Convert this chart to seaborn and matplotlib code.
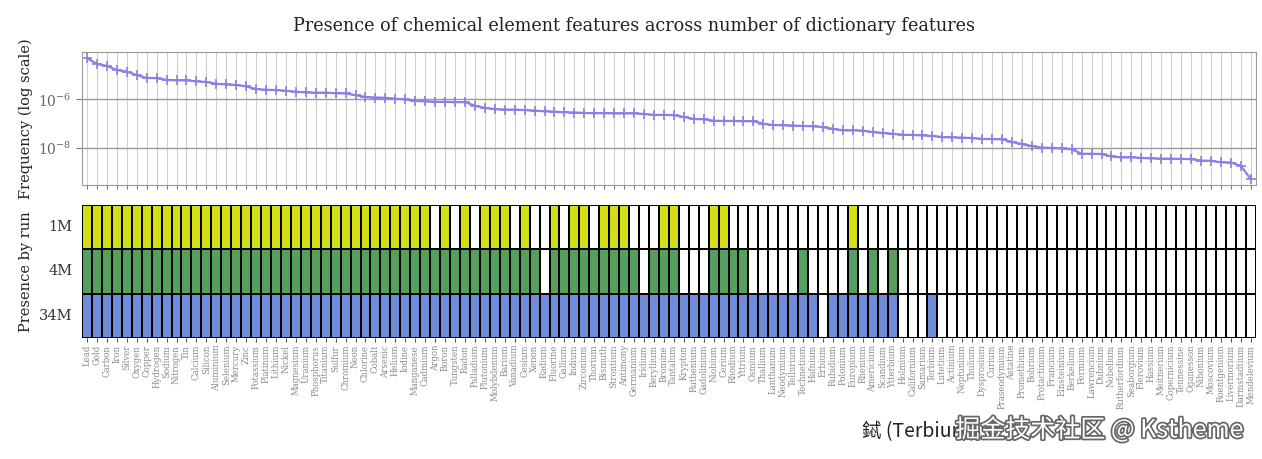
import numpy as np
import pandas as pd
import seaborn as sns
import matplotlib.pyplot as plt
import matplotlib.patheffects as pe
from matplotlib.colors import ListedColormap
from matplotlib.ticker import NullLocator

# element order (sorted by frequency)
elements = [
    "Lead", "Gold", "Carbon", "Iron", "Silver", "Oxygen", "Copper", "Hydrogen", "Sodium", "Nitrogen",
    "Tin", "Calcium", "Silicon", "Aluminium", "Selenium", "Mercury", "Zinc", "Potassium", "Platinum", "Lithium",
    "Nickel", "Magnesium", "Uranium", "Phosphorus", "Titanium", "Sulfur", "Chromium", "Neon", "Chlorine", "Cobalt",
    "Arsenic", "Helium", "Iodine", "Manganese", "Cadmium", "Argon", "Boron", "Tungsten", "Radon", "Palladium",
    "Plutonium", "Molybdenum", "Barium", "Vanadium", "Cesium", "Xenon", "Radium", "Fluorine", "Gallium", "Indium",
    "Zirconium", "Thorium", "Bismuth", "Strontium", "Antimony", "Germanium", "Iridium", "Beryllium", "Bromine", "Tantalum",
    "Krypton", "Ruthenium", "Gadolinium", "Niobium", "Cerium", "Rhodium", "Yttrium", "Osmium", "Thallium", "Lanthanum",
    "Neodymium", "Tellurium", "Technetium", "Hafnium", "Erbium", "Rubidium", "Polonium", "Europium", "Rhenium", "Americium",
    "Scandium", "Ytterbium", "Holmium", "Californium", "Samarium", "Terbium", "Lutetium", "Actinium", "Neptunium", "Thulium",
    "Dysprosium", "Curium", "Praseodymium", "Astatine", "Promethium", "Bohrium", "Protactinium", "Francium", "Einsteinium", "Berkelium",
    "Fermium", "Lawrencium", "Dubnium", "Nobelium", "Rutherfordium", "Seaborgium", "Flerovium", "Hassium", "Meitnerium", "Copernicium",
    "Tennessine", "Oganesson", "Nihonium", "Moscovium", "Roentgenium", "Livermorium", "Darmstadtium", "Mendelevium",
]

# log10 of frequency
log_freq = [
    -4.29, -4.53, -4.61, -4.78, -4.85, -4.99, -5.11, -5.12, -5.19, -5.21,
    -5.21, -5.25, -5.28, -5.35, -5.38, -5.40, -5.46, -5.57, -5.60, -5.61,
    -5.64, -5.68, -5.71, -5.72, -5.72, -5.74, -5.75, -5.82, -5.90, -5.92,
    -5.93, -5.97, -6.00, -6.06, -6.08, -6.10, -6.10, -6.11, -6.11, -6.26,
    -6.35, -6.40, -6.42, -6.42, -6.44, -6.46, -6.49, -6.51, -6.53, -6.54,
    -6.56, -6.57, -6.57, -6.58, -6.58, -6.58, -6.60, -6.64, -6.64, -6.65,
    -6.72, -6.81, -6.82, -6.88, -6.89, -6.89, -6.90, -6.90, -7.01, -7.06,
    -7.07, -7.08, -7.10, -7.11, -7.15, -7.22, -7.28, -7.28, -7.29, -7.35,
    -7.39, -7.42, -7.46, -7.47, -7.49, -7.51, -7.56, -7.57, -7.58, -7.60,
    -7.63, -7.64, -7.65, -7.76, -7.85, -7.93, -7.99, -8.01, -8.03, -8.06,
    -8.25, -8.25, -8.26, -8.36, -8.40, -8.40, -8.42, -8.44, -8.45, -8.45,
    -8.46, -8.47, -8.53, -8.54, -8.60, -8.61, -8.75, -9.29,
]

runs = ["1M", "4M", "34M"]
# indices of elements present in each run
present_1m = list(range(0, 35)) + [36, 38, 40, 41, 42, 44, 47, 49, 50, 52, 53, 54, 58, 59, 63, 64, 77]
present_4m = list(range(0, 46)) + list(range(47, 56)) + [57, 58, 59, 63, 64, 65, 66, 72, 77, 79, 81]
present_34m = list(range(0, 74)) + list(range(75, 82)) + [85]

run_colors = ["white", "#d4de14", "#559f5f", "#6e8cd7"]

n = len(elements)
freq_df = pd.DataFrame({"pos": np.arange(n) + 0.5, "freq": 10 ** np.array(log_freq)})

presence = np.zeros((len(runs), n))
for row, idx in enumerate([present_1m, present_4m, present_34m]):
    presence[row, idx] = row + 1
presence_df = pd.DataFrame(presence, index=runs, columns=elements)

sns.set_style("white")
plt.rcParams["font.family"] = ["DejaVu Serif"]
plt.rcParams["mathtext.fontset"] = "dejavuserif"

fig = plt.figure(figsize=(12.62, 4.59), dpi=100)
ax1 = fig.add_axes([0.065, 0.597, 0.93, 0.29])
ax2 = fig.add_axes([0.065, 0.264, 0.93, 0.289])

# top: frequency curve
sns.lineplot(data=freq_df, x="pos", y="freq", ax=ax1, color="#8a7fe3", linewidth=1.6,
             marker="+", markersize=7, markeredgewidth=1.2, markeredgecolor="#8a7fe3")
ax1.set_yscale("log")
ax1.set_ylim(10 ** -9.54, 10 ** -4.03)
ax1.set_xlim(0, n)
ax1.set_yticks([1e-8, 1e-6])
ax1.yaxis.set_minor_locator(NullLocator())
ax1.set_xticks(np.arange(n) + 0.5)
ax1.set_xticklabels([])
ax1.tick_params(axis="x", bottom=True, length=3, color="#777", width=0.8)
ax1.tick_params(axis="y", left=True, length=4, color="#777", labelsize=10, labelcolor="#666")
ax1.grid(axis="x", color="#cfcfcf", linewidth=0.8)
ax1.grid(axis="y", color="#999999", linewidth=1.0)
for s in ax1.spines.values():
    s.set_color("#999999")
ax1.set_xlabel("")
ax1.set_ylabel("Frequency (log scale)", fontsize=10.5, color="#222")
fig.suptitle("Presence of chemical element features across number of dictionary features",
             x=0.502, y=0.962, fontsize=12.7, color="#222")

# bottom: presence grid
sns.heatmap(presence_df, ax=ax2, cmap=ListedColormap(run_colors), vmin=-0.5, vmax=3.5,
            linewidths=1.3, linecolor="black", cbar=False)
ax2.set_xticks(np.arange(n) + 0.5)
ax2.set_xticklabels(elements, rotation=90, fontsize=6.2, color="#8a8a8a")
ax2.set_yticklabels(runs, rotation=0, fontsize=10.5, color="#333")
ax2.tick_params(axis="x", bottom=True, length=3, color="#555", pad=2)
ax2.tick_params(axis="y", left=False)
ax2.set_ylabel("Presence by run", fontsize=10.5, color="#222")
ax2.set_xlabel("")

fig.align_ylabels([ax1, ax2])

fig.text(0.683, 0.059, "鋱 (Terbium)", fontsize=14, color="#222", va="center",
         family=["Noto Sans CJK TC", "DejaVu Sans"])
fig.text(0.757, 0.063, "掘金技术社区 @ Kstheme", fontsize=18, color="white", va="center",
         family=["Noto Sans CJK SC", "DejaVu Sans"],
         path_effects=[pe.withStroke(linewidth=2.5, foreground="#666")])

fig.savefig("out.png", dpi=100)
